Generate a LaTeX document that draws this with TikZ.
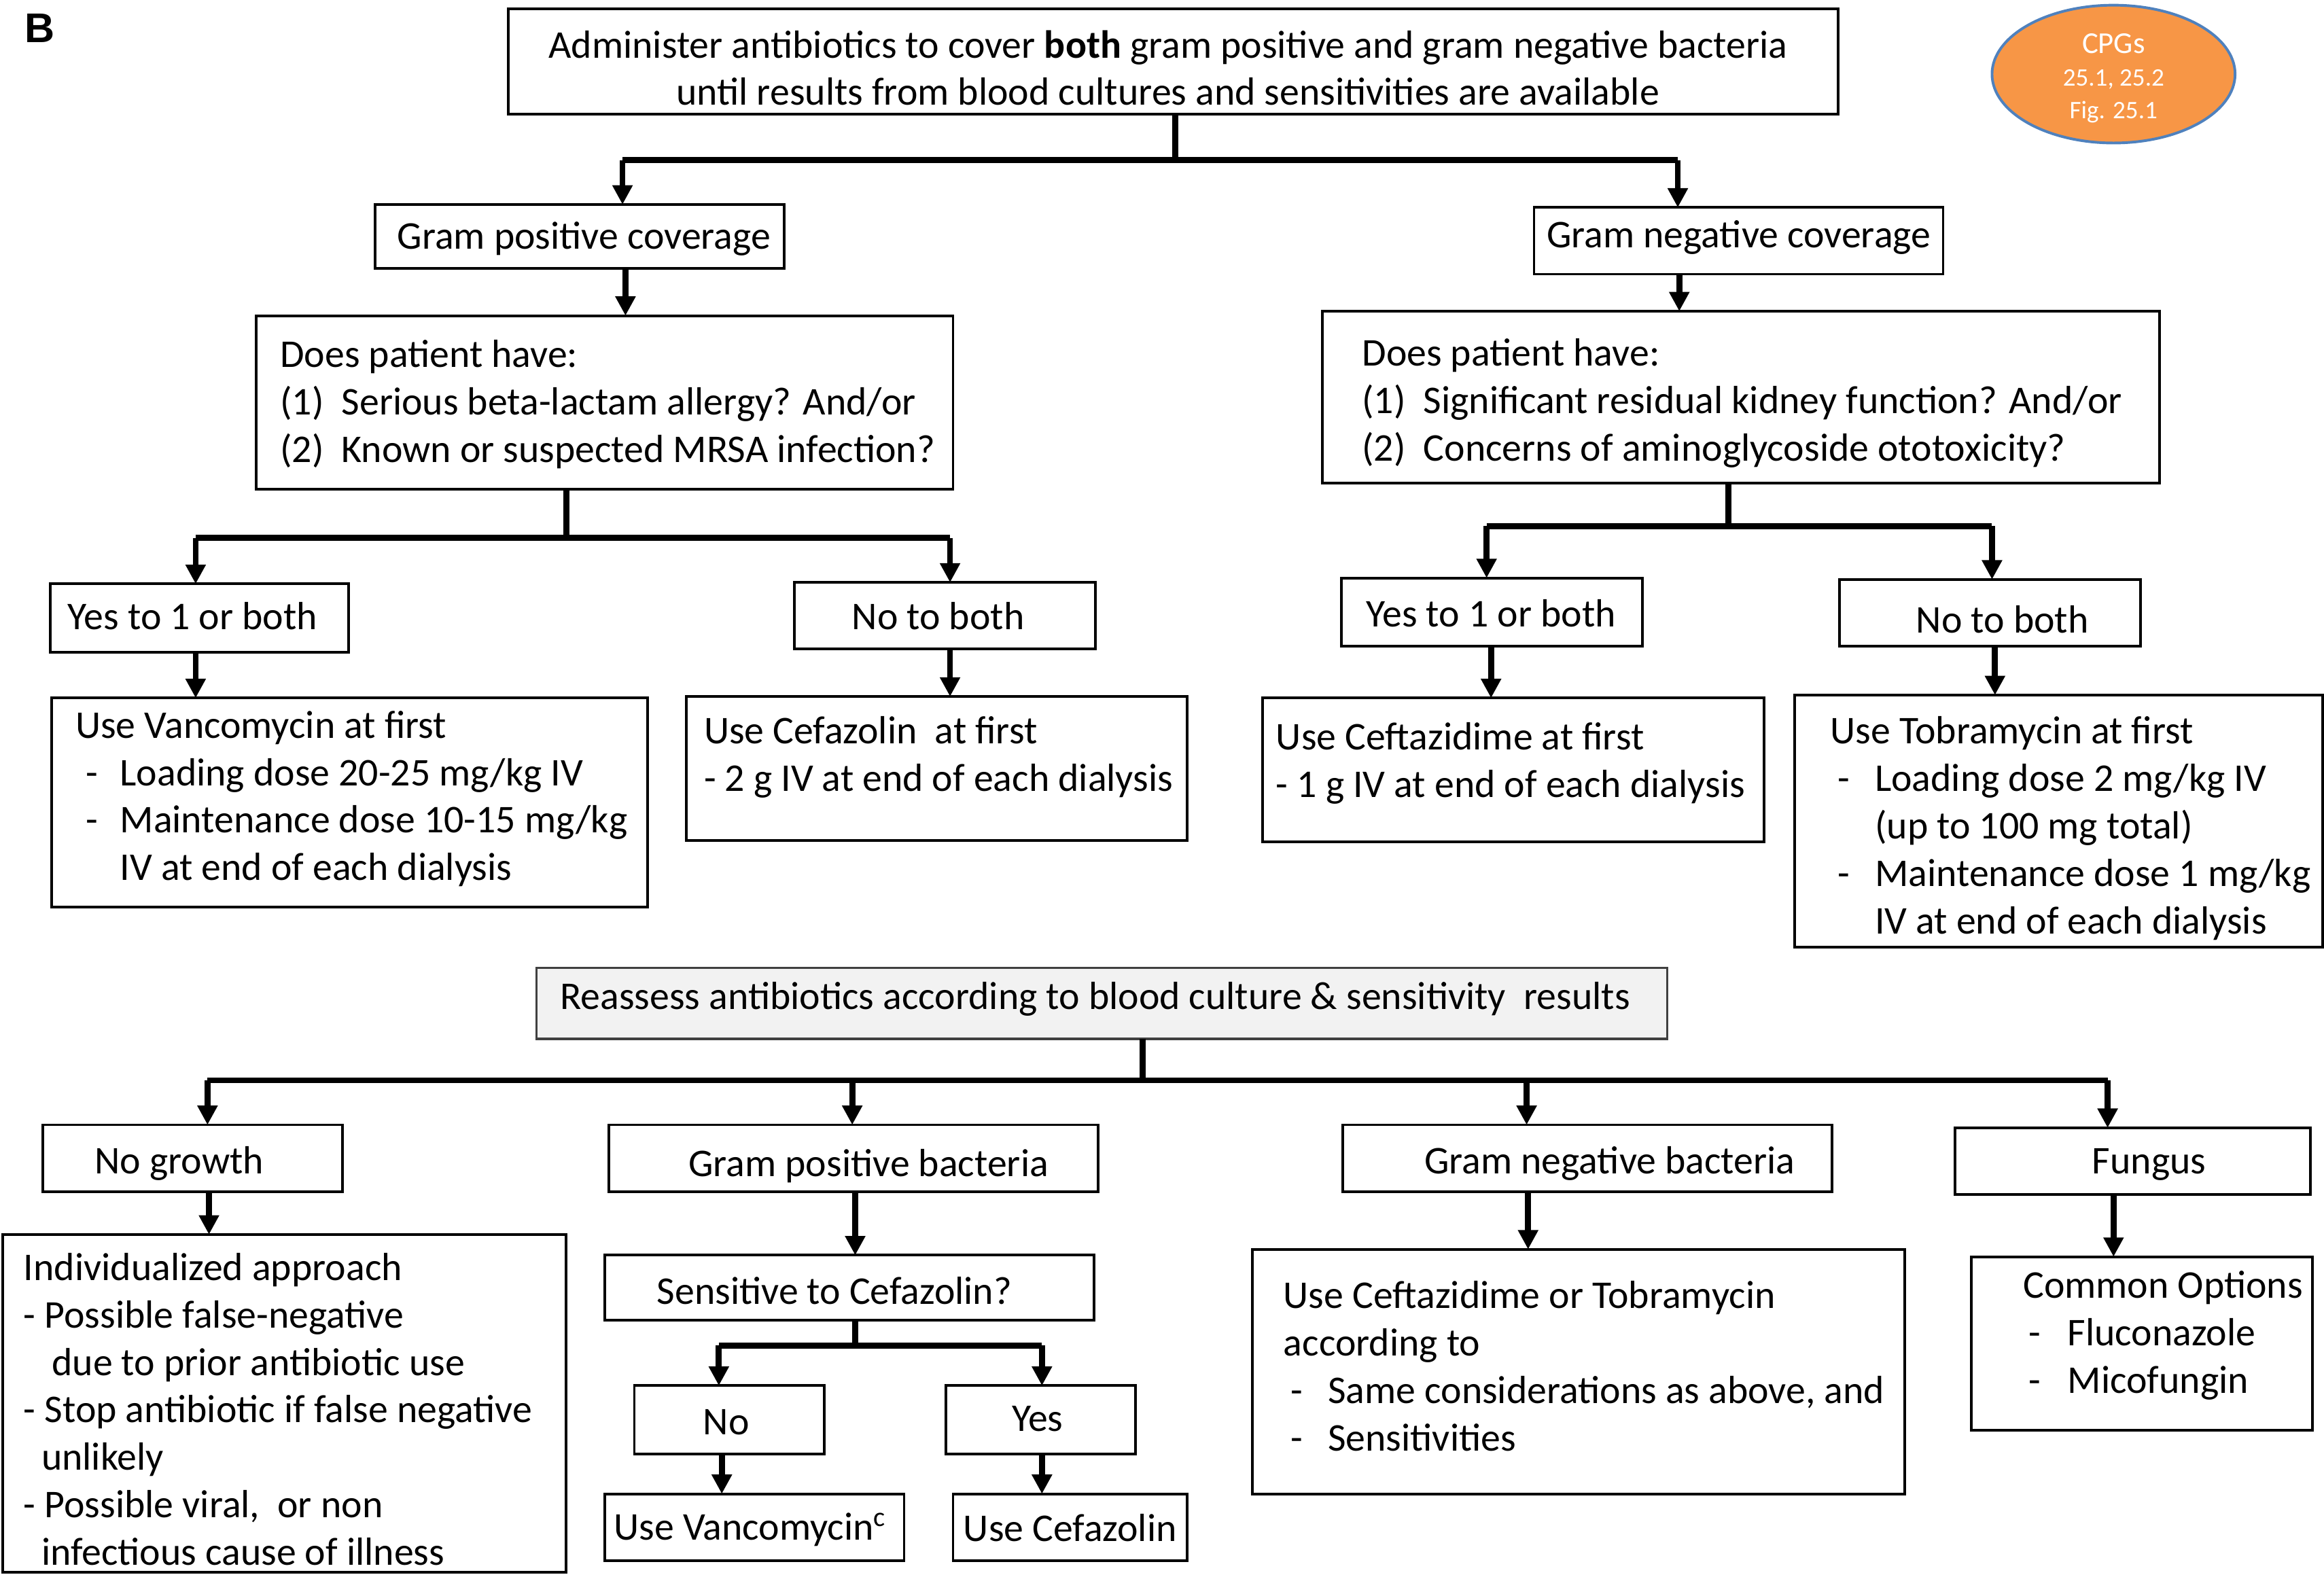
\documentclass[tikz,border=0pt]{standalone}
\usepackage{fontspec}
\setmainfont{Carlito}
\newfontfamily\labfont{Liberation Sans}
\usetikzlibrary{arrows.meta,shapes.geometric}
\definecolor{cpgfill}{HTML}{F79646}
\definecolor{cpgline}{HTML}{4F81BD}
\definecolor{greyfill}{HTML}{F2F2F2}
\definecolor{greyline}{HTML}{404040}
\tikzset{
  bxs/.style={draw=black, line width=1.8pt, inner sep=0pt, outer sep=0pt},
  txt/.style={inner sep=0pt, outer sep=0pt, align=left, font=\fontsize{26.5}{32}\selectfont},
  conn/.style={line width=4pt},
  barl/.style={line width=4pt},
  arr/.style={line width=4pt, -{Triangle[length=13pt,width=13pt]}},
}
\newcommand\bx[6][]{\node[bxs,#1,minimum width={(#4-#2)*1pt},minimum height={(#5-#3)*1pt}] (#6) at ({(#2+#4)/2},{(#3+#5)/2}) {};}
% anchor is the baseline of the LAST line
\newcommand\tl[4][]{\node[txt,anchor=base west,#1] (#2) at (#3) {#4};}
\newcommand\tcn[4][]{\node[txt,anchor=base,align=center,#1] (#2) at (#3) {#4};}
\newcommand\dsh[1]{\makebox[#1][l]{-}}
\begin{document}
\begin{tikzpicture}[x=1pt,y=-1pt]
\useasboundingbox (0,0) rectangle (1568,1064);
% label B
\node[inner sep=0pt, font=\labfont\bfseries\fontsize{28}{30}\selectfont] (lblB) at (27,19) {B};
% CPG ellipse
\node[ellipse, draw=cpgline, fill=cpgfill, line width=1.8pt, minimum width=164pt, minimum height=93pt, inner sep=0pt] (cpg) at (1426,50) {};
\node[txt, text=white, anchor=base, font=\fontsize{20.5}{24}\selectfont] (cpg1) at (1426,36) {CPGs};
\node[txt, text=white, anchor=base, font=\fontsize{17}{20}\selectfont] (cpg2) at (1426,58) {25.1, 25.2};
\node[txt, text=white, anchor=base, font=\fontsize{17}{20}\selectfont] (cpg3) at (1426,80) {Fig. 25.1};
% boxes
\bx{343}{6}{1240}{77}{top}
\bx{253}{138}{529}{181}{gpc}
\bx{1035}{140}{1311}{185}{gnc}
\bx{173}{213}{643}{330}{q1}
\bx{892}{210}{1457}{326}{q2}
\bx{34}{394}{235}{440}{yes1}
\bx{536}{393}{739}{438}{no1}
\bx{905}{390}{1108}{436}{yes2}
\bx{1241}{391}{1444}{436}{no2}
\bx{35}{471}{437}{612}{vanco}
\bx{463}{470}{801}{567}{cefaz}
\bx{852}{471}{1190}{568}{ceft}
\bx{1211}{469}{1567}{639}{tobra}
\bx[draw=greyline,fill=greyfill,line width=1.5pt]{362}{653}{1125}{701}{reass}
\bx{29}{759}{231}{804}{nogrowth}
\bx{411}{759}{741}{804}{gpb}
\bx{906}{759}{1236}{804}{gnb}
\bx{1319}{761}{1559}{806}{fungus}
\bx{2}{833}{382}{1061}{indiv}
\bx{408}{847}{738}{891}{sens}
\bx{428}{935}{556}{981}{nobox}
\bx{638}{935}{766}{981}{yesbox}
\bx{408}{1008}{610}{1053}{usevanco}
\bx{643}{1008}{801}{1053}{usecef}
\bx{845}{843}{1285}{1008}{usect}
\bx{1330}{848}{1560}{965}{common}
% texts
\tcn{ttop}{788,71}{Administer antibiotics to cover \textbf{both} gram positive and gram negative bacteria\\until results from blood cultures and sensitivities are available}
\tcn{tgpc}{394,168}{Gram positive coverage}
\tcn{tgnc}{1173,167}{Gram negative coverage}
\tl{tq1}{189,312}{Does patient have:\\(1)\ \ Serious beta-lactam allergy? And/or\\(2)\ \ Known or suspected MRSA infection?}
\tl{tq2}{919,311}{Does patient have:\\(1)\ \ Significant residual kidney function? And/or\\(2)\ \ Concerns of aminoglycoside ototoxicity?}
\tcn{tyes1}{130,425}{Yes to 1 or both}
\tcn{tno1}{633,425}{No to both}
\tcn{tyes2}{1006,423}{Yes to 1 or both}
\tcn{tno2}{1351,427}{No to both}
\tl{tvanco}{51,594}{Use Vancomycin at first\\\hspace*{7pt}\dsh{23pt}Loading dose 20-25 mg/kg IV\\\hspace*{7pt}\dsh{23pt}Maintenance dose 10-15 mg/kg\\\hspace*{30pt}IV at end of each dialysis}
\tl{tcefaz}{475,534}{Use Cefazolin\ \ at first\\- 2 g IV at end of each dialysis}
\tl{tceft}{861,538}{Use Ceftazidime at first\\- 1 g IV at end of each dialysis}
\tl{ttobra}{1235,630}{Use Tobramycin at first\\\hspace*{5pt}\dsh{25pt}Loading dose 2 mg/kg IV\\\hspace*{30pt}(up to 100 mg total)\\\hspace*{5pt}\dsh{25pt}Maintenance dose 1 mg/kg\\\hspace*{30pt}IV at end of each dialysis}
\tl{treass}{378,681}{Reassess antibiotics according to blood culture \& sensitivity\ \ results}
\tcn{tnogrowth}{121,792}{No growth}
\tcn{tgpb}{586,794}{Gram positive bacteria}
\tcn{tgnb}{1086,792}{Gram negative bacteria}
\tcn{tfungus}{1450,792}{Fungus}
\tl{tindiv}{16,1056}{Individualized approach\\- Possible false-negative\\\hspace*{19pt}due to prior antibiotic use\\- Stop antibiotic if false negative\\\hspace*{12pt}unlikely\\- Possible viral,\ \ or non\\\hspace*{12pt}infectious cause of illness}
\tcn{tsens}{563,880}{Sensitive to Cefazolin?}
\tcn{tno}{490,968}{No}
\tcn{tyes}{700,966}{Yes}
\tcn{tusevanco}{506,1039}{Use Vancomycin\textsuperscript{c}}
\tcn{tusecef}{722,1040}{Use Cefazolin}
\tl{tusect}{866,979}{Use Ceftazidime or Tobramycin\\according to\\\hspace*{5pt}\dsh{25pt}Same considerations as above, and\\\hspace*{5pt}\dsh{25pt}Sensitivities}
\tl{tcommon}{1365,940}{Common Options\\\hspace*{4pt}\dsh{26pt}Fluconazole\\\hspace*{4pt}\dsh{26pt}Micofungin}
% junction coordinates
\coordinate (j1) at (793,108);
\coordinate (j1a) at (420,108);
\coordinate (j1b) at (1132,108);
\coordinate (j2) at (382,363);
\coordinate (j2a) at (132,363);
\coordinate (j2b) at (641,363);
\coordinate (j3) at (1166,355);
\coordinate (j3a) at (1003,355);
\coordinate (j3b) at (1344,355);
\coordinate (j4) at (771,729);
\coordinate (j4a) at (140,729);
\coordinate (j4b) at (575,729);
\coordinate (j4c) at (1030,729);
\coordinate (j4d) at (1422,729);
\coordinate (j5) at (577,908);
\coordinate (j5a) at (485,908);
\coordinate (j5b) at (703,908);
% connectors: top section
\draw[conn] (j1 |- top.south) -- (j1);
\draw[barl] (j1a) -- (j1b);
\draw[arr] (j1a) -- (j1a |- gpc.north);
\draw[arr] (j1b) -- (j1b |- gnc.north);
\draw[arr] (422,0 |- gpc.south) -- (422,0 |- q1.north);
\draw[arr] (1133,0 |- gnc.south) -- (1133,0 |- q2.north);
\draw[conn] (j2 |- q1.south) -- (j2);
\draw[barl] (j2a) -- (j2b);
\draw[arr] (j2a) -- (j2a |- yes1.north);
\draw[arr] (j2b) -- (j2b |- no1.north);
\draw[arr] (132,0 |- yes1.south) -- (132,0 |- vanco.north);
\draw[arr] (641,0 |- no1.south) -- (641,0 |- cefaz.north);
\draw[conn] (j3 |- q2.south) -- (j3);
\draw[barl] (j3a) -- (j3b);
\draw[arr] (j3a) -- (j3a |- yes2.north);
\draw[arr] (j3b) -- (j3b |- no2.north);
\draw[arr] (1006,0 |- yes2.south) -- (1006,0 |- ceft.north);
\draw[arr] (1346,0 |- no2.south) -- (1346,0 |- tobra.north);
% bottom section
\draw[conn] (j4 |- reass.south) -- (j4);
\draw[barl] (j4a) -- (j4d);
\draw[arr] (j4a) -- (j4a |- nogrowth.north);
\draw[arr] (j4b) -- (j4b |- gpb.north);
\draw[arr] (j4c) -- (j4c |- gnb.north);
\draw[arr] (j4d) -- (j4d |- fungus.north);
\draw[arr] (141,0 |- nogrowth.south) -- (141,0 |- indiv.north);
\draw[arr] (577,0 |- gpb.south) -- (577,0 |- sens.north);
\draw[conn] (j5 |- sens.south) -- (j5);
\draw[barl] (j5a) -- (j5b);
\draw[arr] (j5a) -- (j5a |- nobox.north);
\draw[arr] (j5b) -- (j5b |- yesbox.north);
\draw[arr] (487,0 |- nobox.south) -- (487,0 |- usevanco.north);
\draw[arr] (703,0 |- yesbox.south) -- (703,0 |- usecef.north);
\draw[arr] (1031,0 |- gnb.south) -- (1031,0 |- usect.north);
\draw[arr] (1426,0 |- fungus.south) -- (1426,0 |- common.north);
\end{tikzpicture}
\end{document}
